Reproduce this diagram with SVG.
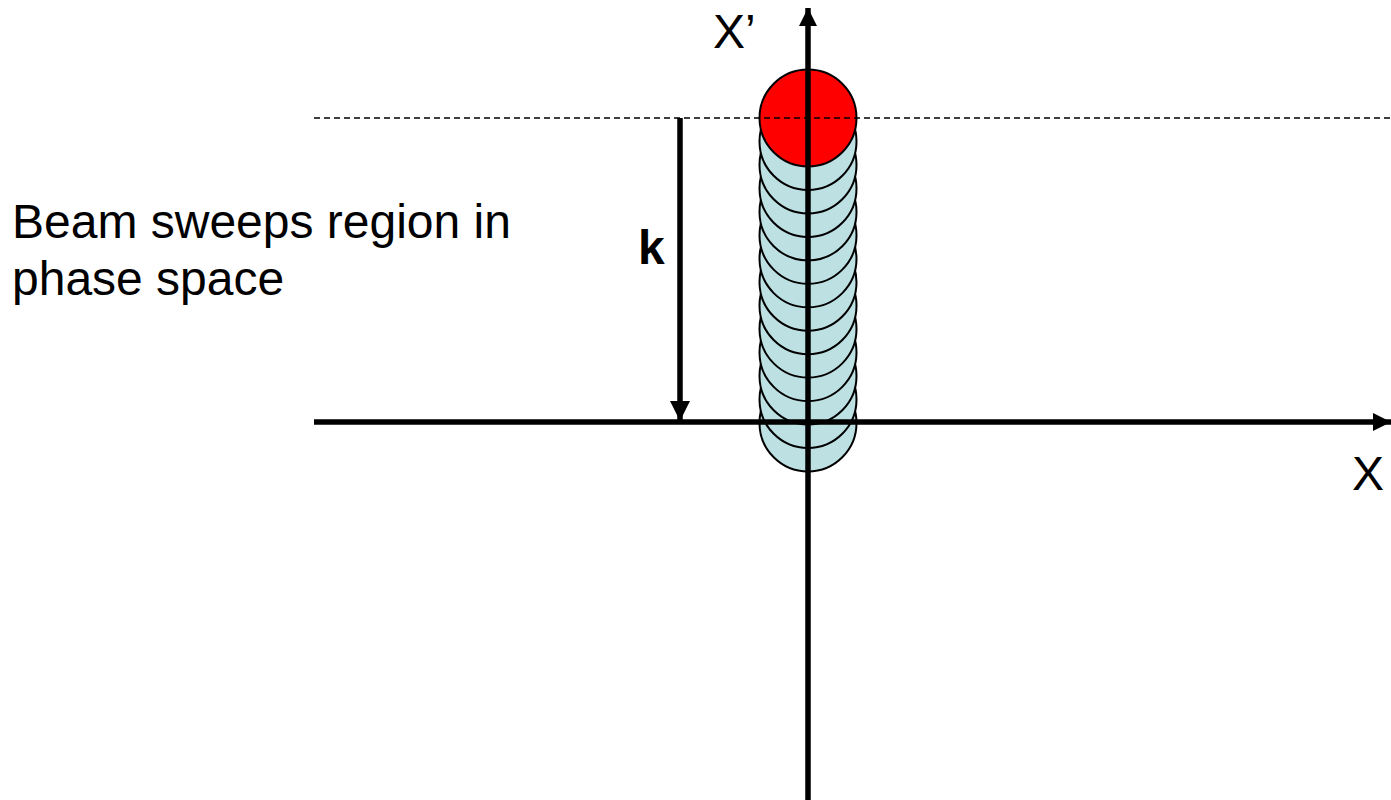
<svg xmlns="http://www.w3.org/2000/svg" width="1391" height="800" viewBox="0 0 1391 800">
<style>
.t{font-family:"Liberation Sans",Arial,sans-serif;font-size:48px;fill:#000}
.c{fill:#bde0e3;stroke:#000;stroke-width:2}
.ax{stroke:#000;stroke-width:5.5;fill:none}
</style>
<defs>
<marker id="ah" viewBox="0 0 10 10" refX="10" refY="5" markerWidth="3.3" markerHeight="3.3" orient="auto" markerUnits="strokeWidth"><path d="M0,0 L10,5 L0,10 z" fill="#000"/></marker>
<marker id="ahk" viewBox="0 0 10 10" refX="10" refY="5" markerWidth="3.7" markerHeight="3.7" orient="auto" markerUnits="strokeWidth"><path d="M0,0 L10,5 L0,10 z" fill="#000"/></marker>
</defs>
<rect width="1391" height="800" fill="#fff"/>
<g id="beam">
<circle class="c" cx="808" cy="423" r="48.5"/>
<circle class="c" cx="808" cy="399.5" r="48.5"/>
<circle class="c" cx="808" cy="376" r="48.5"/>
<circle class="c" cx="808" cy="352.6" r="48.5"/>
<circle class="c" cx="808" cy="329.1" r="48.5"/>
<circle class="c" cx="808" cy="305.7" r="48.5"/>
<circle class="c" cx="808" cy="282.2" r="48.5"/>
<circle class="c" cx="808" cy="258.8" r="48.5"/>
<circle class="c" cx="808" cy="235.3" r="48.5"/>
<circle class="c" cx="808" cy="211.9" r="48.5"/>
<circle class="c" cx="808" cy="188.4" r="48.5"/>
<circle class="c" cx="808" cy="165" r="48.5"/>
<circle class="c" cx="808" cy="141.5" r="48.5"/>
<circle cx="808" cy="118" r="48.5" fill="#ff0000" stroke="#000" stroke-width="2"/>
</g>
<g id="connectors">
<line x1="314" y1="118" x2="1391" y2="118" stroke="#000" stroke-width="1.5" stroke-dasharray="6,4"/>
<line class="ax" x1="314" y1="422" x2="1391" y2="422" marker-end="url(#ah)"/>
<line class="ax" x1="808" y1="800" x2="808" y2="8" marker-end="url(#ah)"/>
<line class="ax" x1="680" y1="118" x2="680" y2="421" marker-end="url(#ahk)"/>
</g>
<g id="labels">
<text class="t" x="12" y="238">Beam sweeps region in</text>
<text class="t" x="12" y="295">phase space</text>
<text class="t" x="638" y="264" font-weight="bold" font-size="38">k</text>
<text class="t" x="713" y="48" font-size="42">X’</text>
<text class="t" x="1352" y="490" font-size="44">X</text>
</g>
</svg>
